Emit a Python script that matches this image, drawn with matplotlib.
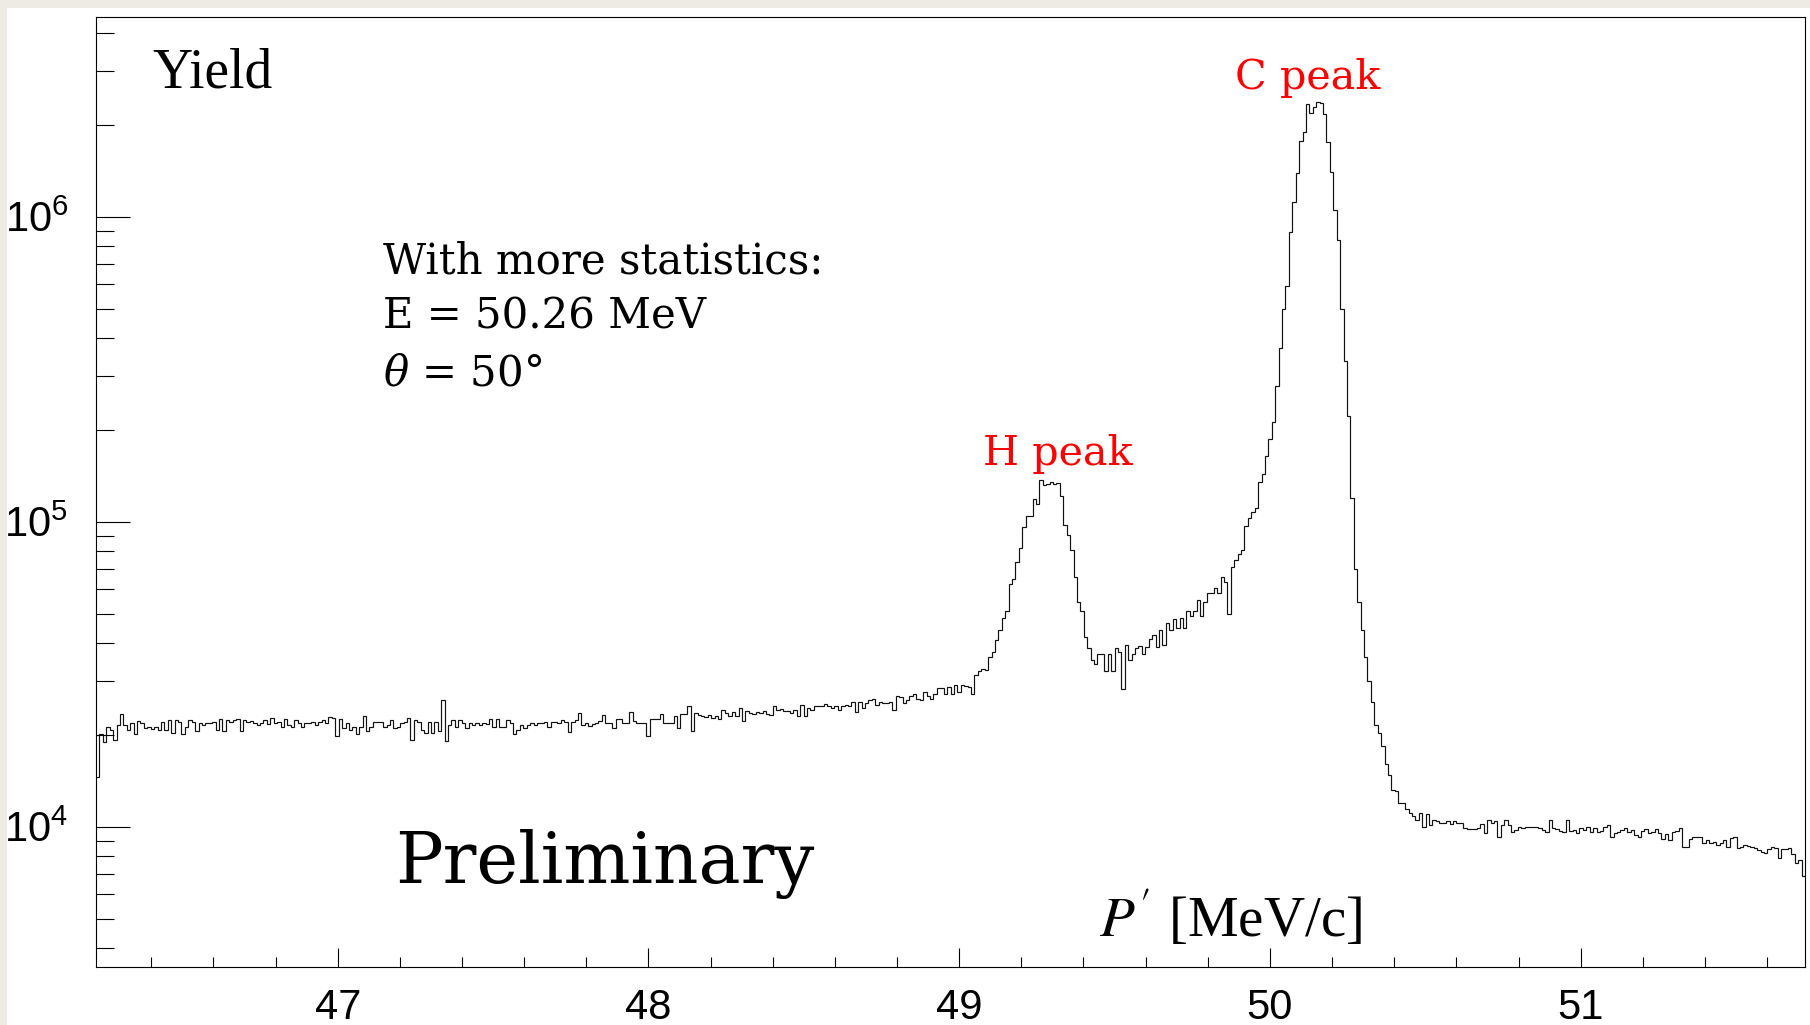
import numpy as np
import matplotlib
matplotlib.use("Agg")
import matplotlib.pyplot as plt
from matplotlib.patches import Rectangle
from matplotlib.ticker import LogLocator, MultipleLocator, NullFormatter, FixedLocator

# ---------------- data ----------------
P_MIN = 46.222          # MeV/c, left edge of first bin
BIN_WIDTH = 0.011       # MeV/c

# yield per bin, in thousands
# flat background (bins 0-145)
counts_a = [
    14.6, 20.1, 19.0, 21.3, 20.8, 19.3, 21.6, 23.5, 21.6, 20.8,
    21.8, 20.1, 22.2, 21.9, 21.1, 21.3, 20.9, 21.3, 20.8, 22.1,
    20.7, 22.4, 20.3, 22.4, 22.1, 20.2, 21.3, 22.4, 22.1, 20.6,
    21.8, 21.6, 21.8, 21.9, 22.1, 20.8, 22.5, 20.6, 22.4, 22.1,
    22.4, 22.5, 20.6, 22.3, 22.1, 22.2, 21.8, 21.6, 21.8, 22.4,
    21.7, 22.7, 21.8, 22.1, 21.3, 22.5, 21.6, 21.3, 22.4, 21.8,
    21.3, 21.8, 21.9, 22.1, 21.6, 22.1, 22.3, 21.8, 22.9, 22.7,
    19.9, 22.5, 21.1, 21.9, 20.8, 21.3, 20.1, 21.3, 23.0, 20.6,
    21.3, 22.1, 22.1, 22.1, 21.3, 21.6, 22.4, 21.1, 21.3, 21.8,
    22.1, 22.8, 19.3, 22.4, 22.1, 20.8, 20.3, 22.1, 20.3, 22.1,
    20.6, 26.0, 19.1, 21.6, 22.4, 21.3, 22.3, 21.8, 21.1, 21.8,
    21.6, 21.8, 21.6, 21.9, 21.7, 22.5, 21.3, 22.5, 21.3, 21.3,
    22.4, 21.9, 20.2, 20.8, 21.6, 21.1, 21.6, 21.8, 21.6, 21.9,
    21.9, 22.1, 21.3, 22.1, 22.1, 21.8, 22.4, 22.1, 20.4, 22.1,
    22.3, 23.6, 21.6, 21.8, 21.4, 21.7,
]
# slowly rising background (bins 146-255)
counts_b = [
    21.9, 22.2, 23.3, 21.9, 21.9, 21.1, 22.5, 22.6, 21.8, 21.9,
    23.7, 22.2, 21.9, 21.9, 21.9, 19.9, 22.5, 22.5, 22.6, 23.5,
    21.9, 21.8, 21.8, 23.0, 21.1, 23.5, 23.5, 24.9, 20.6, 23.6,
    23.3, 23.0, 22.9, 23.3, 22.8, 23.0, 22.5, 24.1, 23.6, 23.0,
    23.7, 23.1, 24.5, 22.2, 23.9, 23.6, 23.5, 23.7, 23.6, 23.9,
    23.5, 23.3, 24.9, 24.2, 24.3, 23.9, 23.9, 23.6, 24.1, 23.1,
    25.1, 23.1, 24.5, 24.2, 24.8, 24.8, 24.8, 25.3, 24.8, 24.5,
    24.8, 24.2, 24.9, 25.0, 24.9, 25.7, 23.7, 25.7, 24.5, 25.5,
    26.0, 26.3, 25.1, 25.7, 25.5, 25.5, 25.7, 24.1, 26.8, 26.6,
    25.5, 26.0, 26.9, 27.3, 26.3, 26.1, 27.7, 26.9, 26.3, 27.3,
    28.4, 28.4, 27.3, 28.6, 27.3, 29.1, 27.7, 29.1, 28.9, 28.6,
]
# H peak and valley (bins 256-331)
counts_c = [
    27.3, 31.4, 32.5, 32.8, 32.6, 36.1, 37.4, 40.9, 44.2, 48.2,
    51.1, 62.5, 64.9, 74.0, 81.8, 96.3, 104, 104, 119, 114,
    137, 132, 133, 135, 133, 134, 121, 97.5, 90.5, 80.8,
    66.0, 54.7, 51.0, 42.0, 38.6, 35.2, 34.2, 36.8, 36.8, 32.4,
    36.9, 32.4, 38.6, 37.4, 28.2, 39.4, 35.2, 36.9, 38.4, 39.0,
    36.9, 38.8, 41.4, 42.5, 38.8, 44.2, 39.4, 46.4, 44.2, 47.8,
    44.7, 48.2, 44.7, 51.1, 49.0, 51.1, 55.3, 49.0, 54.7, 58.2,
    58.4, 60.5, 58.3, 66.0, 63.5, 50.0,
]
# C peak (bins 332-372)
counts_d = [
    70.9, 74.9, 78.5, 80.6, 96.8, 103, 107.6, 110.8, 135, 143,
    164, 187, 212, 279, 372, 498, 594, 889, 1120, 1394,
    1775, 1900, 2342, 2183, 2284, 2383, 2357, 2166, 1753, 1401,
    1052, 839, 498, 336, 222, 120, 69.8, 54.7, 44, 36,
    30,
]
# tail (bins 373-499)
counts_e = [
    25.7, 21.5, 20.3, 18.4, 16.1, 14.8, 13.2, 13.1, 12.0, 12.0,
    11.4, 11.1, 10.8, 10.5, 11.1, 10.0, 11.0, 10.1, 10.5, 10.4,
    10.3, 10.3, 10.4, 10.2, 10.4, 10.3, 10.3, 9.88, 9.81, 9.81,
    9.81, 9.88, 10.2, 9.57, 10.5, 10.3, 10.4, 9.28, 10.1, 10.5,
    10.1, 9.64, 9.76, 10.0, 9.88, 9.96, 9.96, 9.96, 9.96, 9.88,
    9.76, 9.64, 10.5, 9.88, 9.81, 9.71, 9.64, 10.5, 9.71, 9.76,
    9.52, 9.88, 9.76, 10.0, 9.64, 9.88, 9.64, 9.71, 9.96, 10.1,
    9.28, 9.52, 9.64, 9.76, 9.88, 9.64, 9.76, 9.40, 9.28, 9.71,
    9.81, 9.57, 9.64, 9.81, 9.52, 9.09, 9.47, 9.05, 9.64, 9.71,
    9.88, 8.60, 8.60, 9.09, 9.28, 9.28, 9.28, 8.82, 9.05, 8.82,
    8.93, 8.71, 8.87, 9.05, 8.60, 9.16, 9.23, 8.50, 8.60, 8.71,
    8.65, 8.60, 8.50, 8.39, 8.28, 8.22, 8.43, 8.60, 8.50, 7.88,
    8.43, 8.43, 8.50, 8.14, 7.63, 7.78, 6.90,
]

x_major_ticks = [47, 48, 49, 50, 51]
x_tick_labels = ["47", "48", "49", "50", "51"]
y_major_ticks = [1e4, 1e5, 1e6]
Y_MIN, Y_MAX = 3.467e3, 4.516e6

info_lines = ["With more statistics:", "E = 50.26 MeV", r"$\theta$ = 50°"]

counts = np.array(counts_a + counts_b + counts_c + counts_d + counts_e) * 1000.0
edges = P_MIN + BIN_WIDTH * np.arange(len(counts) + 1)

# ---------------- style ----------------
plt.rcParams["font.family"] = ["Liberation Sans Narrow", "Liberation Sans", "DejaVu Sans"]
TIMES = ["Liberation Serif", "DejaVu Serif"]
SERIF = ["DejaVu Serif"]

W, H = 1810, 1025
fig = plt.figure(figsize=(W / 100, H / 100), dpi=100, facecolor="#eeebe4")
fig.patches.append(Rectangle((7 / W, 0), 1, 1 - 8 / H, transform=fig.transFigure,
                             facecolor="white", edgecolor="none", zorder=-10))

def fx(px):
    return px / W

def fy(py):
    return 1 - py / H

ax = fig.add_axes([fx(96), fy(967), (1805 - 96) / W, (967 - 17) / H])
ax.set_zorder(1)
ax.set_facecolor("white")

ax.stairs(counts, edges, baseline=None, color="#111111", lw=0.85)

ax.set_yscale("log")
ax.set_xlim(edges[0], edges[-1])
ax.set_ylim(Y_MIN, Y_MAX)

ax.xaxis.set_major_locator(FixedLocator(x_major_ticks))
ax.set_xticklabels(x_tick_labels)
ax.xaxis.set_minor_locator(MultipleLocator(0.2))
ax.yaxis.set_major_locator(FixedLocator(y_major_ticks))
ax.yaxis.set_minor_locator(LogLocator(base=10, subs=np.arange(2, 10), numticks=30))
ax.yaxis.set_minor_formatter(NullFormatter())

for s in ax.spines.values():
    s.set_linewidth(0.8)
    s.set_color("black")

ax.tick_params(axis="both", which="both", direction="in", top=False, right=False,
               width=0.8, color="black")
ax.tick_params(axis="x", which="major", length=13.7, pad=15, labelsize=30)
ax.tick_params(axis="x", which="minor", length=7.2)
ax.tick_params(axis="y", which="major", length=24.5, pad=20, labelsize=30)
ax.tick_params(axis="y", which="minor", length=12.7)

# axis titles placed inside the frame (ROOT style)
ax.set_xlabel(r"$P'$ [MeV/c]", family=TIMES, size=41, math_fontfamily="stix")
ax.xaxis.label.set_ha("right")
ax.xaxis.label.set_va("baseline")
ax.xaxis.set_label_coords((1362 - 96) / 1709, (967 - 937) / 950)

ax.set_ylabel("Yield", family=TIMES, size=40, rotation=0)
ax.yaxis.label.set_ha("left")
ax.yaxis.label.set_va("baseline")
ax.yaxis.set_label_coords((152 - 96) / 1709, (967 - 88) / 950)

# annotations
info_texts = []
for txt, base in zip(info_lines, [273, 328, 386]):
    info_texts.append(fig.text(fx(383), fy(base), txt, family=SERIF, size=30,
                               va="baseline", ha="left",
                               math_fontfamily="dejavuserif", zorder=5))

h_txt = fig.text(fx(983), fy(465), "H peak", family=SERIF, size=34, color="red",
                 va="baseline", ha="left", zorder=5)
c_txt = fig.text(fx(1235), fy(89), "C peak", family=SERIF, size=34, color="red",
                 va="baseline", ha="left", zorder=5)
pre_txt = fig.text(fx(395), fy(883), "Preliminary", family=SERIF, size=56,
                   va="baseline", ha="left", zorder=5)

# scale the overlay text so its width matches the reference layout
fig.canvas.draw()
renderer = fig.canvas.get_renderer()

def fit_size(t, target_px):
    w = t.get_window_extent(renderer).width
    return t.get_fontsize() * target_px / w

s_info = fit_size(info_texts[0], 440)
for t in info_texts:
    t.set_fontsize(s_info)
s_peak = fit_size(h_txt, 150)
h_txt.set_fontsize(s_peak)
c_txt.set_fontsize(s_peak)
pre_txt.set_fontsize(fit_size(pre_txt, 419))

fig.savefig("out.png", dpi=100, facecolor=fig.get_facecolor())
